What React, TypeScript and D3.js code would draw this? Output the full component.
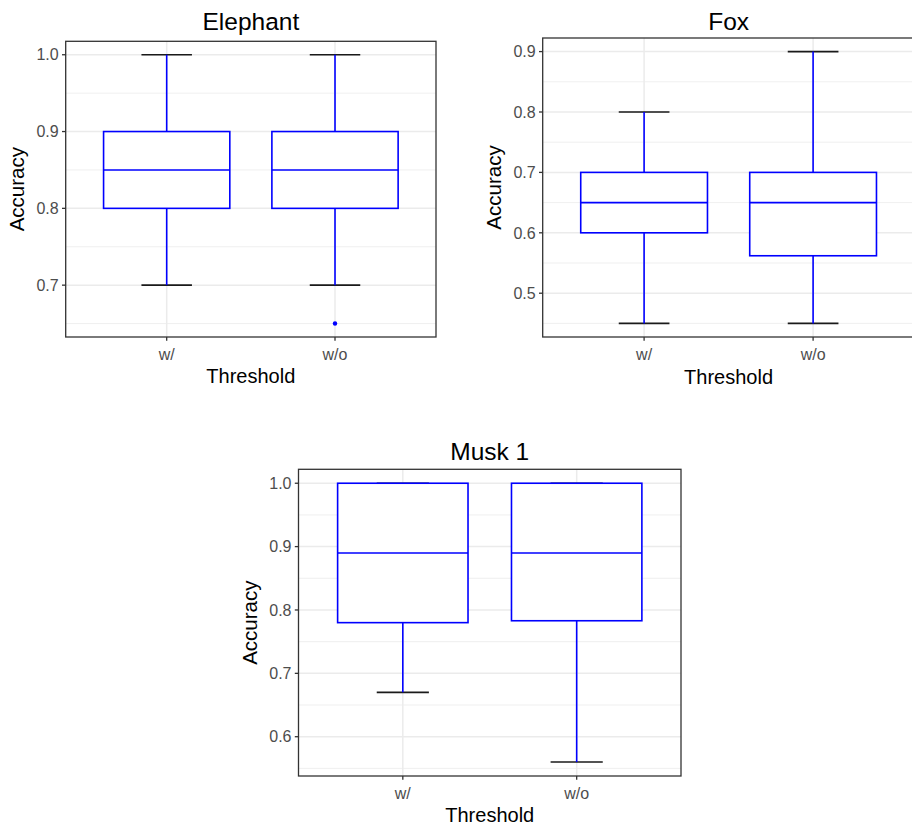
import React from 'react';
import * as d3 from 'd3';

const groups = ['w/', 'w/o'];

const elephantStats = [
    { lower: 0.7, q1: 0.8, median: 0.85, q3: 0.9, upper: 1.0 },
    { lower: 0.7, q1: 0.8, median: 0.85, q3: 0.9, upper: 1.0 }
];
const elephantOutliers = [[], [0.65]];
const elephantTicks = [0.7, 0.8, 0.9, 1.0];

const foxStats = [
    { lower: 0.45, q1: 0.6, median: 0.65, q3: 0.7, upper: 0.8 },
    { lower: 0.45, q1: 0.562, median: 0.65, q3: 0.7, upper: 0.9 }
];
const foxOutliers = [[], []];
const foxTicks = [0.5, 0.6, 0.7, 0.8, 0.9];

const muskStats = [
    { lower: 0.67, q1: 0.78, median: 0.89, q3: 1.0, upper: 1.0 },
    { lower: 0.56, q1: 0.783, median: 0.89, q3: 1.0, upper: 1.0 }
];
const muskOutliers = [[], []];
const muskTicks = [0.6, 0.7, 0.8, 0.9, 1.0];

const font = '"Liberation Sans", Arial, sans-serif';

type Stat = { lower: number, q1: number, median: number, q3: number, upper: number };

function Panel({ title, stats, outliers, ticks, box }: {
    title: string, stats: Stat[], outliers: number[][], ticks: number[],
    box: { left: number, top: number, width: number, height: number, titleY: number }
}) {

    const container = React.useRef<SVGGElement>(null);

    React.useEffect(() => {
        if (!container.current) return;
        const g = d3.select(container.current);
        g.selectAll('*').remove();

        const { width, height } = box;

        const vals = stats.flatMap(s => [s.lower, s.upper]).concat(outliers.flat());
        const lo = d3.min(vals) as number, hi = d3.max(vals) as number;
        const pad = (hi - lo) * 0.05;
        const y = d3.scaleLinear().domain([lo - pad, hi + pad]).range([height, 0]);
        const x = d3.scalePoint<string>().domain(groups).range([0, width]).padding(0.6);
        const step = x.step();

        // minor grid
        const minor = ticks.map(t => t - 0.05).concat([ticks[ticks.length - 1] + 0.05])
            .filter(v => v > y.domain()[0] && v < y.domain()[1]);
        g.selectAll('.minor').data(minor).join('line')
            .attr('x1', 0).attr('x2', width)
            .attr('y1', d => y(d)).attr('y2', d => y(d))
            .attr('stroke', '#ebebeb').attr('stroke-width', 0.8);
        // major grid
        g.selectAll('.hmajor').data(ticks).join('line')
            .attr('x1', 0).attr('x2', width)
            .attr('y1', d => y(d)).attr('y2', d => y(d))
            .attr('stroke', '#ebebeb').attr('stroke-width', 1.5);
        g.selectAll('.vmajor').data(groups).join('line')
            .attr('x1', d => x(d)!).attr('x2', d => x(d)!)
            .attr('y1', 0).attr('y2', height)
            .attr('stroke', '#ebebeb').attr('stroke-width', 1.5);

        const grp = g.selectAll('.grp').data(stats).join('g')
            .attr('transform', (d, i) => `translate(${x(groups[i])},0)`);

        // errorbar caps
        grp.selectAll('.cap').data(d => [d.lower, d.upper]).join('line')
            .attr('x1', -step * 0.15).attr('x2', step * 0.15)
            .attr('y1', d => y(d)).attr('y2', d => y(d))
            .attr('stroke', '#1a1a1a').attr('stroke-width', 1.6);

        // whiskers
        grp.append('line').attr('x1', 0).attr('x2', 0)
            .attr('y1', d => y(d.upper)).attr('y2', d => y(d.q3))
            .attr('stroke', 'blue').attr('stroke-width', 1.6);
        grp.append('line').attr('x1', 0).attr('x2', 0)
            .attr('y1', d => y(d.q1)).attr('y2', d => y(d.lower))
            .attr('stroke', 'blue').attr('stroke-width', 1.6);

        // box
        const bw = step * 0.75;
        grp.append('rect')
            .attr('x', -bw / 2).attr('width', bw)
            .attr('y', d => y(d.q3)).attr('height', d => y(d.q1) - y(d.q3))
            .attr('fill', 'white').attr('stroke', 'blue').attr('stroke-width', 1.6);
        grp.append('line')
            .attr('x1', -bw / 2).attr('x2', bw / 2)
            .attr('y1', d => y(d.median)).attr('y2', d => y(d.median))
            .attr('stroke', 'blue').attr('stroke-width', 1.6);

        // outliers
        grp.selectAll('.out').data((d, i) => outliers[i]).join('circle')
            .attr('cx', 0).attr('cy', d => y(d)).attr('r', 2.2).attr('fill', 'blue');

        // border
        g.append('rect').attr('width', width).attr('height', height)
            .attr('fill', 'none').attr('stroke', '#333333').attr('stroke-width', 1.3);

        // y axis ticks
        g.selectAll('.yt').data(ticks).join('line')
            .attr('x1', -3.7).attr('x2', 0)
            .attr('y1', d => y(d)).attr('y2', d => y(d))
            .attr('stroke', '#333333').attr('stroke-width', 1.3);
        g.selectAll('.yl').data(ticks).join('text')
            .attr('x', -7).attr('y', d => y(d)).attr('dy', '0.36em')
            .attr('text-anchor', 'end').attr('fill', '#4d4d4d')
            .style('font-size', '16px').style('font-family', font)
            .text(d => d3.format('.1f')(d));

        // x axis ticks
        g.selectAll('.xt').data(groups).join('line')
            .attr('x1', d => x(d)!).attr('x2', d => x(d)!)
            .attr('y1', height).attr('y2', height + 3.7)
            .attr('stroke', '#333333').attr('stroke-width', 1.3);
        g.selectAll('.xl').data(groups).join('text')
            .attr('x', d => x(d)!).attr('y', height + 23)
            .attr('text-anchor', 'middle').attr('fill', '#4d4d4d')
            .style('font-size', '16px').style('font-family', font)
            .text(d => d);

        // axis titles
        g.append('text')
            .attr('x', width / 2).attr('y', height + 46.5)
            .attr('text-anchor', 'middle').attr('fill', 'black')
            .style('font-size', '20px').style('font-family', font)
            .text('Threshold');
        g.append('text')
            .attr('transform', `translate(-42,${height / 2}) rotate(-90)`)
            .attr('text-anchor', 'middle').attr('fill', 'black')
            .style('font-size', '20.5px').style('font-family', font)
            .text('Accuracy');
        g.append('text')
            .attr('x', width / 2).attr('y', box.titleY - box.top)
            .attr('text-anchor', 'middle').attr('fill', 'black')
            .style('font-size', '24.5px').style('font-family', font)
            .text(title);

    }, []);

    return <g ref={container} transform={`translate(${box.left},${box.top})`} />;
}

export default function App() {
    return <svg width={912} height={829} style={{ position: 'absolute', left: 0, top: 0, background: 'white' }}>
        <rect width={912} height={829} fill="white" />
        <Panel title="Elephant" stats={elephantStats} outliers={elephantOutliers} ticks={elephantTicks}
            box={{ left: 65.7, top: 41.3, width: 370.3, height: 295.7, titleY: 30 }} />
        <Panel title="Fox" stats={foxStats} outliers={foxOutliers} ticks={foxTicks}
            box={{ left: 542.7, top: 38, width: 371.8, height: 299, titleY: 29.5 }} />
        <Panel title="Musk 1" stats={muskStats} outliers={muskOutliers} ticks={muskTicks}
            box={{ left: 298.5, top: 469.3, width: 382.5, height: 306.7, titleY: 459.5 }} />
    </svg>
}
